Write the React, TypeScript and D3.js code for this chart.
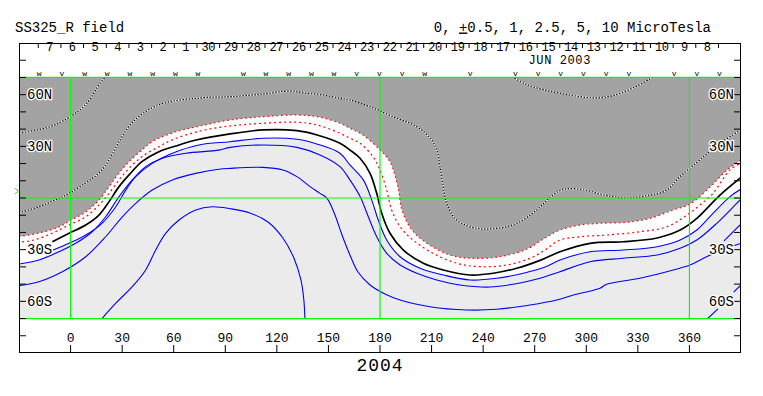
import React from 'react';
import * as d3 from 'd3';

type P = [number, number];

// axes
const lonTicks = [0, 30, 60, 90, 120, 150, 180, 210, 240, 270, 300, 330, 360];
const latTicks = [-80, -70, -60, -50, -40, -30, -20, -10, 0, 10, 20, 30, 40, 50, 60, 70, 80];
const latLabels: [number, string][] = [[60, '60N'], [30, '30N'], [-30, '30S'], [-60, '60S']];
const gridLons = [0, 180, 360];
const gridLats = [70, 0, -70];

// dates along the top (Carrington longitude runs backwards in time)
const dayLabels = ['7', '6', '5', '4', '3', '2', '1', '30', '29', '28', '27', '26', '25', '24', '23',
  '22', '21', '20', '19', '18', '17', '16', '15', '14', '13', '12', '11', '10', '9', '8'];
const dayMarks = ['w', 'v', 'w', 'w', 'w', 'w', 'w', 'w', '', 'w', 'w', 'w', 'w', 'w', 'v', 'v',
  'v', 'w', '', 'v', '', 'v', 'v', 'v', 'v', 'v', 'v', '', 'v', 'v', 'v'];
const firstDayLon = -18.8;
const lastDayLon = 376.9;
const monthLabel = 'JUN 2003';
const monthTick = 23;
const earthLat = 4;

// contours (lon, lat)
const grayEdge: P[] = [[-30, -22.4], [-18.4, -20.3], [-6.7, -16.8], [0.3, -12.8], [8.9, -8.0], [16.5, -1.2],
  [22.4, 6.6], [28.2, 14.5], [34.0, 21.1], [41.5, 27.9], [47.4, 32.7], [60.8, 38.3], [75.3, 41.8],
  [92.8, 45.3], [111.9, 47.2], [131.7, 48.2], [145.1, 46.9], [156.7, 43.4], [162.5, 40.5], [170.1, 36.6],
  [180, 27.9], [185.8, 21.1], [190.4, 6.6], [192.8, -7.0], [198.6, -18.6], [207.3, -26.3], [220.7, -33.1],
  [232.4, -35.0], [249.8, -34.1], [265.5, -29.6], [276.0, -23.2], [284.7, -18.6], [296.3, -15.7],
  [308.0, -14.7], [323.7, -14.1], [337.1, -11.8], [350.4, -7.0], [360.3, -3.5], [372.0, 6.4],
  [381.9, 16.3], [390, 22.1]];

const negHalf: P[] = [[-28.2, -25.5], [-21.3, -24.4], [-10.8, -20.5], [-0.9, -15.7], [8.9, -10.9],
  [16.5, -4.1], [22.4, 2.7], [28.2, 10.5], [34.0, 17.2], [41.5, 24.0], [51.4, 29.8], [59.0, 33.7],
  [75.3, 38.9], [92.8, 41.8], [111.9, 43.4], [131.7, 44.0], [143.4, 42.4], [156.7, 37.6], [162.5, 34.7],
  [168.4, 31.8], [175.9, 24.0], [180, 16.3], [183.9, 4.6], [186.8, -7.0], [191.7, -16.7], [199.2, -24.4],
  [210.8, -32.1], [224.8, -37.9], [238.2, -39.9], [253.9, -38.9], [267.3, -35.0], [276.0, -30.2],
  [284.7, -24.4], [296.3, -22.5], [312.0, -21.5], [331.2, -19.6], [346.9, -16.7], [358.6, -9.9],
  [366.1, -4.1], [373.7, 2.7], [383.6, 16.3], [390, 20.3]];

const neutral: P[] = [[-10.6, -25.4], [-0.9, -20.5], [8.8, -15.7], [16.5, -9.9], [22.4, -2.1], [28.2, 6.6],
  [34.0, 13.4], [41.5, 21.1], [51.4, 26.9], [63.1, 30.8], [73.0, 33.7], [92.8, 37.2], [111.9, 39.5],
  [131.7, 39.1], [143.4, 36.6], [156.7, 31.8], [162.5, 27.9], [168.4, 23.1], [174.2, 14.3], [178.1, 2.7],
  [181.0, -8.9], [185.8, -20.5], [193.6, -30.2], [205.2, -37.9], [216.8, -41.8], [232.4, -44.7],
  [245.9, -43.7], [259.5, -40.8], [273.1, -36.2], [284.7, -31.2], [302.2, -26.3], [321.4, -25.4],
  [341.2, -23.2], [354.6, -18.6], [364.3, -11.8], [372.0, -4.1], [377.8, 1.7], [390, 11.9]];

const posHalf: P[] = [[-10.2, -30.2], [-0.9, -26.3], [8.8, -21.5], [18.3, -14.7], [26.3, -5.1], [32.1, 4.6],
  [37.9, 12.4], [47.5, 20.1], [59.2, 26.0], [74.7, 30.8], [92.8, 32.7], [111.9, 34.7], [131.7, 34.1],
  [145.1, 30.8], [156.7, 26.0], [162.5, 19.2], [170.3, 10.5], [175.2, -1.2], [179.0, -12.8], [183.9, -24.4],
  [191.7, -34.1], [203.3, -40.8], [216.8, -44.7], [232.4, -47.6], [247.9, -46.6], [263.4, -43.7],
  [276.0, -40.1], [284.7, -36.0], [302.2, -31.2], [321.4, -30.2], [341.2, -28.3], [354.6, -24.4],
  [364.3, -18.6], [373.7, -8.9], [383.6, 0.8], [390, 5.2]];

const posOne: P[] = [[-30, -38.3], [-18.4, -36.0], [-6.7, -31.2], [3.0, -26.3], [12.6, -19.6], [20.4, -10.9],
  [28.2, 0.8], [35.9, 10.5], [43.7, 18.2], [53.4, 23.1], [67.0, 26.0], [86.3, 27.8], [92.8, 29.4],
  [111.9, 30.8], [131.7, 29.4], [145.1, 25.0], [156.7, 18.2], [162.5, 10.5], [168.4, 0.8], [173.2, -10.9],
  [178.1, -22.5], [183.9, -32.1], [191.7, -38.9], [201.4, -43.7], [213.0, -47.6], [226.5, -50.5],
  [244.0, -51.7], [258.5, -49.9], [273.1, -46.6], [284.7, -42.8], [302.2, -37.0], [321.4, -35.0],
  [341.2, -33.1], [354.6, -29.2], [364.3, -24.4], [375.9, -14.7], [387.5, -3.1], [390, -0.6]];

const posTwoHalf: P[] = [[-30, -50.9], [-18.4, -48.6], [-4.8, -42.8], [8.8, -34.1], [20.4, -22.5],
  [30.1, -10.9], [37.9, -3.1], [47.5, 4.6], [59.2, 10.5], [72.8, 14.3], [86.3, 16.7], [92.7, 17.2],
  [111.9, 17.8], [123.6, 16.3], [131.7, 12.4], [139.3, 6.6], [145.1, 2.7], [149.2, -0.2], [153.8, -9.9],
  [157.9, -21.5], [162.5, -33.1], [167.2, -43.0], [174.2, -50.5], [182.9, -55.7], [191.7, -59.2],
  [209.1, -63.1], [230.4, -65.0], [247.9, -64.6], [267.3, -62.1], [282.8, -59.2], [292.5, -56.3],
  [308.0, -52.4], [311.9, -50.1], [331.2, -46.6], [350.6, -41.8], [360.3, -38.9], [370.0, -34.1],
  [381.7, -29.2], [390, -26.3]];

const posFive: P[] = [[18.3, -70], [26.3, -61.1], [35.9, -51.5], [43.7, -41.8], [49.5, -30.2], [55.3, -20.5],
  [63.1, -12.8], [72.8, -7.0], [82.4, -5.1], [92.8, -6.2], [104.3, -8.7], [114.8, -13.9], [123.5, -23.2],
  [129.9, -34.8], [134.0, -47.6], [135.7, -59.2], [136.3, -70]];

const posStubs: P[][] = [
  [[380.1, -24.9], [390, -15.1]],
  [[385.7, -54.6], [390, -50.5]],
  [[370.2, -70.4], [376.6, -64.4]],
];

const negLow: P[][] = [
  [[-30, 37.6], [-12.0, 41.4], [-0.3, 47.2], [9.4, 55.0], [17.1, 66.6], [20.6, 70.5]],
  [[-30, -8.5], [-18.4, -5.1], [-9.0, -1.2], [-0.9, 2.7], [11.3, 10.5], [17.1, 15.1], [22.4, 22.1],
    [28.2, 32.7], [34.6, 42.4], [43.3, 49.9], [54.9, 55.2], [75.3, 58.1], [92.7, 58.8], [111.9, 60.4],
    [127.6, 62.1], [135.2, 61.1], [146.9, 59.8], [156.7, 57.9], [162.5, 56.9], [174.2, 53.0], [187.6, 47.2],
    [201.4, 41.4], [209.1, 34.7], [213.0, 27.9], [214.9, 18.2], [216.8, 6.6], [218.8, -3.1], [224.6, -12.8],
    [236.2, -17.6], [247.9, -17.6], [259.5, -14.7], [271.1, -7.0], [280.6, 1.7], [287.6, 5.2],
    [299.2, 4.6], [310.8, 1.7], [323.6, 0], [337.0, 1.7], [346.9, 4.6], [354.5, 12.4], [366.1, 22.1],
    [377.8, 31.8], [390, 39.5]],
  [[256.8, 70.5], [264.4, 66.2], [276.0, 62.7], [290.5, 59.8], [305.1, 58.1], [316.7, 59.8], [328.3, 64.4],
    [337.0, 69.1], [339.9, 70.5]],
];

const x = d3.scaleLinear().domain([-30, 390]).range([19, 741]);
const y = d3.scaleLinear().domain([-90, 90]).range([353, 43]);
const dayLon = d3.scaleLinear().domain([0, dayLabels.length]).range([firstDayLon, lastDayLon]);
const curve = d3.curveCatmullRom.alpha(0.5);
const line = d3.line<P>().x(d => x(d[0])).y(d => y(d[1])).curve(curve);
const areaTop = d3.area<P>().x(d => x(d[0])).y0(y(70)).y1(d => y(d[1])).curve(curve);
const areaBottom = d3.area<P>().x(d => x(d[0])).y0(y(-70)).y1(d => y(d[1])).curve(curve);

const font = '"Liberation Mono", "Courier New", monospace';
const BLUE = '#0000ff';
const GREEN = '#00ff00';

export default function App() {
  const lightEdge = posOne.filter(d => d[0] < posHalf[0][0]).concat(posHalf);
  const x0 = x(-30), x1 = x(390), yT = y(70), yB = y(-70);
  const halo = { paintOrder: 'stroke', stroke: '#fff', strokeWidth: 2.5, strokeLinejoin: 'round' } as React.CSSProperties;

  return (
    <svg width={763} height={396} style={{ position: 'absolute', left: 0, top: 0, background: '#fff' }}
      fontFamily={font}>
      <defs>
        <clipPath id="plot"><rect x={x0} y={yT} width={x1 - x0} height={yB - yT} /></clipPath>
      </defs>

      <text x={15} y={31.5} fontSize={14}>SS325_R field</text>
      <text x={711} y={31.5} fontSize={14} textAnchor="end">
        0, <tspan style={{ textDecoration: 'underline' }}>+</tspan>0.5, 1, 2.5, 5, 10 MicroTesla
      </text>

      <g clipPath="url(#plot)">
        <rect x={x0} y={yT} width={x1 - x0} height={yB - yT} fill="#fff" />
        <path d={areaBottom(lightEdge) ?? ''} fill="#ebebeb" />
        <path d={areaTop(grayEdge) ?? ''} fill="#a3a3a3" />

        {negLow.map((c, i) => (
          <g key={'n' + i}>
            <path d={line(c) ?? ''} fill="none" stroke="#fff" strokeWidth={1.2} />
            <path d={line(c) ?? ''} fill="none" stroke="#000" strokeWidth={1.2} strokeDasharray="1.5 1.5" />
          </g>
        ))}
        <path d={line(grayEdge) ?? ''} fill="none" stroke="#ff0000" strokeWidth={1.2} strokeDasharray="1.5 3" />
        <path d={line(negHalf) ?? ''} fill="none" stroke="#ff0000" strokeWidth={1.2} strokeDasharray="2 3" />
        <path d={line(neutral) ?? ''} fill="none" stroke="#000" strokeWidth={1.7} />
        {[posHalf, posOne, posTwoHalf, posFive, ...posStubs].map((c, i) => (
          <path key={'p' + i} d={line(c) ?? ''} fill="none" stroke={BLUE} strokeWidth={1.1} />
        ))}
      </g>

      {gridLons.map(l => (
        <line key={'gl' + l} x1={x(l)} x2={x(l)} y1={yT} y2={yB} stroke={GREEN} strokeWidth={1.2} />
      ))}
      {gridLats.map(l => (
        <line key={'gt' + l} x1={x0} x2={x1} y1={y(l)} y2={y(l)} stroke={GREEN} strokeWidth={1.2} />
      ))}

      {/* latitude ticks and labels, both sides */}
      {latTicks.map(t => (
        <g key={'lt' + t} stroke="#000">
          <line x1={x0} x2={x0 + 7} y1={y(t)} y2={y(t)} />
          <line x1={x1 - 7} x2={x1} y1={y(t)} y2={y(t)} />
        </g>
      ))}
      {latLabels.map(([t, s]) => (
        <g key={'ll' + t} fontSize={14}>
          <text x={x0 + 8} y={y(t) + 4.5} style={halo}>{s}</text>
          <text x={x1 - 7} y={y(t) + 4.5} textAnchor="end" style={halo}>{s}</text>
        </g>
      ))}
      <path d={`M${x0 - 4},${y(earthLat) - 3}L${x0 - 1},${y(earthLat)}L${x0 - 4},${y(earthLat) + 3}`}
        fill="none" stroke={GREEN} strokeWidth={1} />

      {/* longitude axis */}
      {lonTicks.map(t => (
        <g key={'lo' + t}>
          <line x1={x(t)} x2={x(t)} y1={353} y2={345} stroke="#000" />
          <text x={x(t)} y={341.5} fontSize={13} textAnchor="middle">{t}</text>
        </g>
      ))}

      {/* date axis */}
      {d3.range(dayLabels.length + 1).map(k => (
        <line key={'dt' + k} x1={x(dayLon(k))} x2={x(dayLon(k))} y1={43} y2={48} stroke="#000" />
      ))}
      {dayLabels.map((s, k) => (
        <text key={'dl' + k} x={x(dayLon(k + 0.5))} y={50.5} fontSize={12} letterSpacing={-0.3}
          textAnchor="middle">{s}</text>
      ))}
      {dayMarks.map((s, k) => s ? (
        <text key={'dm' + k} x={x(dayLon(k)) + 1} y={76} fontSize={8} textAnchor="middle">{s}</text>
      ) : null)}
      <text x={x(dayLon(monthTick))} y={63.5} fontSize={12} textAnchor="middle" letterSpacing={0.6}>{monthLabel}</text>

      <rect x={19.5} y={43.5} width={721} height={309} fill="none" stroke="#000" />

      <text x={380} y={371} fontSize={18} textAnchor="middle" letterSpacing={1}>2004</text>
    </svg>
  );
}
